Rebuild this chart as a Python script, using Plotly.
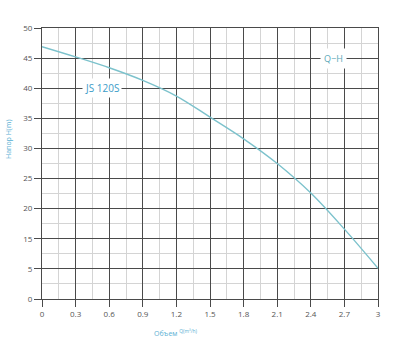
import plotly.graph_objects as go

# Flow Q (m3/h)
flow_q = [0, 0.3, 0.6, 0.9, 1.2, 1.5, 1.8, 2.1, 2.4, 2.7, 3.0]
# Head in chart-axis units (the y scale has ticks every 5 axis units, labelled below)
head_axis = [41.9, 40.2, 38.4, 36.3, 33.7, 30.2, 26.6, 22.5, 17.6, 11.6, 5.1]

x_ticks = [0, 0.3, 0.6, 0.9, 1.2, 1.5, 1.8, 2.1, 2.4, 2.7, 3]
x_tick_text = ["0", "0.3", "0.6", "0.9", "1.2", "1.5", "1.8", "2.1", "2.4", "2.7", "3"]
y_ticks = [0, 5, 10, 15, 20, 25, 30, 35, 40, 45]
y_tick_text = ["0", "5", "15", "20", "25", "30", "35", "40", "45", "50"]

major = "#4a4a4a"
minor = "#d4d4d4"
blue = "#5ab0d4"

fig = go.Figure()
fig.add_trace(go.Scatter(x=flow_q, y=head_axis, mode="lines",
                         line=dict(color="#7cc2cc", width=1.4, shape="spline"),
                         hoverinfo="skip", showlegend=False))

fig.update_layout(
    width=406, height=347,
    margin=dict(l=42, r=28, t=28, b=48),
    paper_bgcolor="white", plot_bgcolor="white",
    font=dict(family="Open Sans", size=8, color="#555"),
    xaxis=dict(range=[0, 3], tickvals=x_ticks, ticktext=x_tick_text,
               showgrid=True, gridcolor=major, gridwidth=1,
               minor=dict(dtick=0.15, showgrid=True, gridcolor=minor, gridwidth=1),
               ticks="outside", ticklen=7, tickcolor=major, tickwidth=1,
               showline=True, linecolor=major, linewidth=1, mirror=True,
               zeroline=False, tickfont=dict(size=8, color="#555")),
    yaxis=dict(range=[0, 45], tickvals=y_ticks, ticktext=y_tick_text,
               showgrid=True, gridcolor=major, gridwidth=1,
               minor=dict(dtick=2.5, showgrid=True, gridcolor=minor, gridwidth=1),
               ticks="outside", ticklen=7, tickcolor=major, tickwidth=1,
               showline=True, linecolor=major, linewidth=1, mirror=True,
               zeroline=False, tickfont=dict(size=8, color="#555")),
)

fig.add_annotation(x=0.54, y=35, xref="x", yref="y", text="JS 120S", showarrow=False,
                   bgcolor="white", font=dict(size=10, color="#3d9cc8", family="Open Sans"), borderpad=2)
fig.add_annotation(x=2.6, y=40, xref="x", yref="y", text="Q−H", showarrow=False,
                   bgcolor="white", font=dict(size=9, color="#5aa8b8", family="Open Sans"), borderpad=3)
fig.add_annotation(x=(8 - 42) / 336, y=(299 - 140) / 271, xref="paper", yref="paper",
                   text="Напор H(m)", showarrow=False, textangle=-90,
                   font=dict(size=7, color=blue), xanchor="center", yanchor="middle")
fig.add_annotation(x=(176 - 42) / 336, y=(299 - 333) / 271, xref="paper", yref="paper",
                   text="Объем <sup>Q(m³/h)</sup>", showarrow=False,
                   font=dict(size=7, color=blue), xanchor="center", yanchor="middle")

fig.write_html("out.html")
